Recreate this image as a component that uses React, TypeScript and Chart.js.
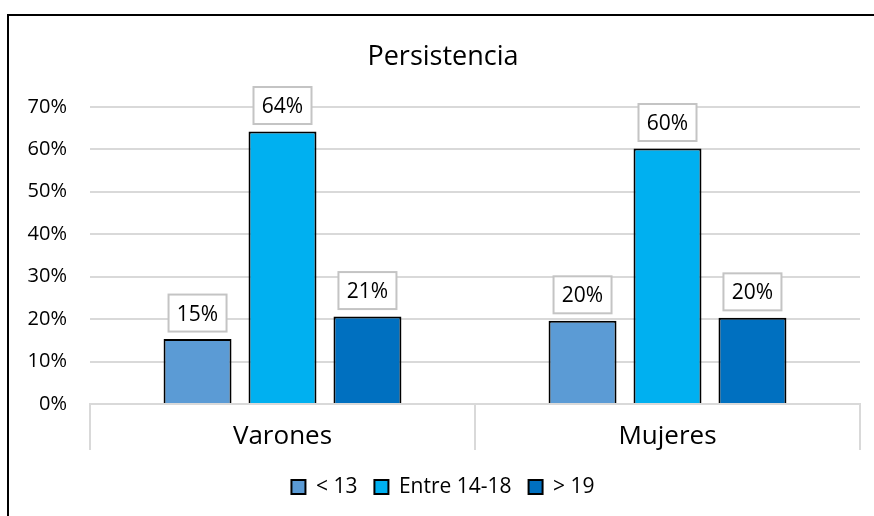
import React, { useEffect, useRef } from 'react';
import { Chart, registerables } from 'chart.js';

Chart.register(...registerables);

const categories = ['Varones', 'Mujeres'];
const seriesNames = ['< 13', 'Entre 14-18', '> 19'];
const under13 = [15.3, 19.6];
const between14and18 = [64.2, 60.2];
const over19 = [20.6, 20.3];
const yTickValues = [0, 10, 20, 30, 40, 50, 60, 70];
const chartTitle = 'Persistencia';

const seriesColors = ['#5B9BD5', '#00B0F0', '#0070C0'];
const FONT = "'Open Sans', sans-serif";

const dataLabelPlugin = {
  id: 'boxedDataLabels',
  afterDatasetsDraw(chart: any) {
    const ctx = chart.ctx;
    chart.data.datasets.forEach((ds: any, di: number) => {
      const meta = chart.getDatasetMeta(di);
      meta.data.forEach((bar: any, i: number) => {
        const v = ds.data[i];
        const { x, y } = bar.getProps(['x', 'y'], true);
        const w = 58;
        const h = 37;
        const bottom = y - 7.5;
        const top = bottom - h;
        ctx.save();
        ctx.fillStyle = '#ffffff';
        ctx.fillRect(x - w / 2, top, w, h);
        ctx.strokeStyle = '#c4c4c4';
        ctx.lineWidth = 2;
        ctx.strokeRect(x - w / 2, top, w, h);
        ctx.fillStyle = '#000000';
        ctx.font = `21px ${FONT}`;
        ctx.textAlign = 'center';
        ctx.textBaseline = 'middle';
        ctx.fillText(Math.round(v) + '%', x, top + h / 2 + 1.5);
        ctx.restore();
      });
    });
  },
};

export default function App() {
  const canvasRef = useRef<HTMLCanvasElement | null>(null);

  useEffect(() => {
    if (!canvasRef.current) return;
    Chart.defaults.font.family = FONT;
    const seriesValues = [under13, between14and18, over19];
    const chart = new Chart(canvasRef.current, {
      type: 'bar',
      data: {
        labels: categories,
        datasets: seriesNames.map((name, i) => ({
          label: name,
          data: seriesValues[i],
          backgroundColor: seriesColors[i],
          borderColor: '#000000',
          borderWidth: 2,
          categoryPercentage: 0.662,
          barPercentage: 0.8,
        })),
      },
      options: {
        responsive: false,
        animation: false,
        devicePixelRatio: 1,
        layout: { padding: { left: 26, right: 35, top: 0, bottom: 22.5 } },
        plugins: {
          title: {
            display: true,
            text: chartTitle,
            color: '#000000',
            font: { size: 27, weight: 'normal', family: FONT, lineHeight: 1.2 },
            padding: { top: 41, bottom: 33.5 },
          },
          legend: {
            position: 'bottom',
            labels: {
              boxWidth: 14,
              boxHeight: 14,
              padding: 17,
              color: '#000000',
              font: { size: 21, family: FONT },
            },
          },
          tooltip: { enabled: false },
        },
        scales: {
          x: {
            grid: {
              offset: true,
              drawOnChartArea: false,
              drawTicks: true,
              tickLength: 46,
              color: '#d9d9d9',
              lineWidth: 2,
            },
            border: { display: true, color: '#d9d9d9', width: 2 },
            ticks: {
              color: '#000000',
              font: { size: 26, family: FONT },
              padding: -29,
            },
            afterFit(scale: any) {
              scale.height = 55.5;
            },
          },
          y: {
            min: 0,
            max: 70,
            afterBuildTicks(scale: any) {
              scale.ticks = yTickValues.map((v) => ({ value: v }));
            },
            grid: { color: '#d9d9d9', lineWidth: 2, drawTicks: false },
            border: { display: false },
            ticks: {
              color: '#000000',
              font: { size: 20, family: FONT },
              padding: 23,
              callback: (v: any) => v + '%',
            },
            afterFit(scale: any) {
              scale.width = 64;
            },
          },
        },
      },
      plugins: [dataLabelPlugin],
    });
    return () => chart.destroy();
  }, []);

  return (
    <div
      style={{
        position: 'fixed',
        left: 0,
        top: 0,
        width: 874,
        height: 516,
        overflow: 'hidden',
        background: '#ffffff',
      }}
    >
      <canvas
        ref={canvasRef}
        width={895}
        height={530}
        style={{ display: 'block', width: 895, height: 530 }}
      />
      <div
        style={{
          position: 'absolute',
          left: 7,
          top: 14,
          width: 1000,
          height: 1000,
          borderTop: '2px solid #000',
          borderLeft: '2px solid #000',
          pointerEvents: 'none',
        }}
      />
    </div>
  );
}
